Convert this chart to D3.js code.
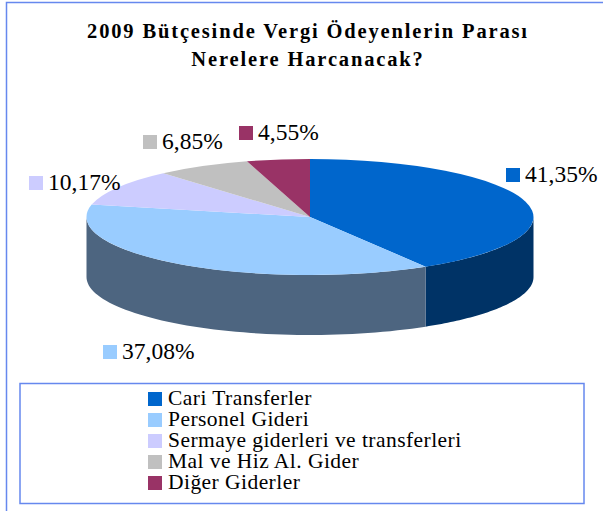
<!DOCTYPE html>
<html><head><meta charset="utf-8">
<script src="https://cdn.jsdelivr.net/npm/d3@7/dist/d3.min.js"></script>
<style>html,body{margin:0;padding:0;background:#fff}svg{display:block}text{font-family:"Liberation Serif",serif;fill:#000}</style>
</head><body><svg id="c" width="603" height="511"></svg>
<script>
const categories=["Cari Transferler","Personel Gideri","Sermaye giderleri ve transferleri","Mal ve Hiz Al. Gider","Diğer Giderler"];
const values=[41.35,37.08,10.17,6.85,4.55];
const valueLabels=["41,35%","37,08%","10,17%","6,85%","4,55%"];
const topColors=["#0066cc","#99ccff","#ccccff","#c0c0c0","#993366"];
const sideColors=["#003366","#4d6580","#666680","#606060","#4d1a33"];
const titleLines=["2009 Bütçesinde Vergi Ödeyenlerin Parası","Nerelere Harcanacak?"];

const svg=d3.select("#c");
const border="#6688ee";
svg.append("path").attr("d","M6.5,511V2.5H603").attr("fill","none").attr("stroke",border).attr("stroke-width",1.5);
svg.selectAll("text.t").data(titleLines).join("text").attr("class","t")
 .attr("x",308).attr("y",(d,i)=>38+i*28).attr("text-anchor","middle")
 .style("font-size","20.5px").style("font-weight","bold").style("letter-spacing","1.85px").text(d=>d);

const cx=310,cy=217,rx=223.5,ry=58,depth=60;
const px=a=>cx+rx*Math.sin(a), py=a=>cy-ry*Math.cos(a);
const arcs=d3.pie().sort(null).value(d=>d)(values);
const wall=svg.append("g");
arcs.forEach((s,i)=>{
  const a0=Math.max(s.startAngle,Math.PI/2), a1=Math.min(s.endAngle,Math.PI*1.5);
  if(a1<=a0) return;
  const pts=d3.range(0,61).map(k=>a0+(a1-a0)*k/60);
  const area=d3.area().x(px).y0(py).y1(a=>py(a)+depth);
  wall.append("path").attr("d",area(pts)).attr("fill",sideColors[i]);
});
const arc=d3.arc().innerRadius(0).outerRadius(rx);
const lid=svg.append("g").attr("transform",`translate(${cx},${cy}) scale(1,${ry/rx})`);
lid.selectAll("path").data(arcs).join("path").attr("d",arc).attr("fill",(d,i)=>topColors[i]);

const labelPos=[[506,168],[103,345],[29,176],[143,135],[239,126]];
const lg=svg.append("g");
valueLabels.forEach((t,i)=>{
  const [x,y]=labelPos[i];
  lg.append("rect").attr("x",x).attr("y",y).attr("width",14).attr("height",14).attr("fill",topColors[i]);
  lg.append("text").attr("x",x+19).attr("y",y+14).style("font-size","23.5px").text(t);
});
svg.append("rect").attr("x",20).attr("y",383.5).attr("width",564).attr("height",120).attr("fill","#fff").attr("stroke",border).attr("stroke-width",1.5);
const ly=d3.scalePoint().domain(categories).range([399,483]);
categories.forEach((c,i)=>{
  svg.append("rect").attr("x",148).attr("y",ly(c)-7).attr("width",14).attr("height",14).attr("fill",topColors[i]);
  svg.append("text").attr("x",168).attr("y",ly(c)+6).style("font-size","21.5px").style("letter-spacing","0.45px").text(c);
});
</script></body></html>
